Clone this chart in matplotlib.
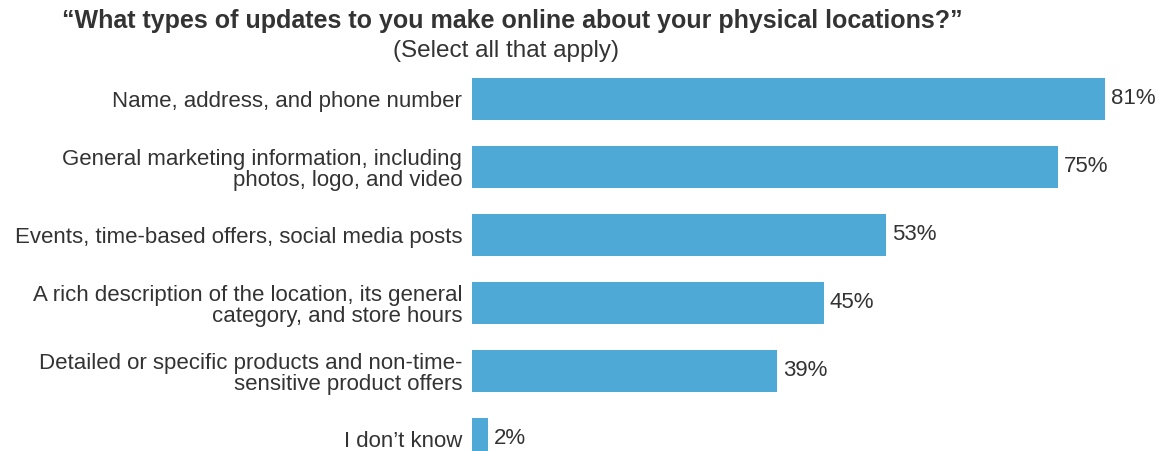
import matplotlib
matplotlib.use("Agg")
import matplotlib.pyplot as plt

categories = [
    "Name, address, and phone number",
    "General marketing information, including\nphotos, logo, and video",
    "Events, time-based offers, social media posts",
    "A rich description of the location, its general\ncategory, and store hours",
    "Detailed or specific products and non-time-\nsensitive product offers",
    "I don\u2019t know",
]
values = [81, 75, 53, 45, 39, 2]

plt.rcParams['font.family'] = ['Liberation Sans', 'DejaVu Sans']

W, H = 1164, 451
fig = plt.figure(figsize=(W / 100, H / 100), dpi=100)
left = 472 / W
ax = fig.add_axes([left, 0.0, 1 - left, 1 - 65 / H])

y = list(range(len(values)))
ax.barh(y, values, height=0.62, color="#4EA9D6")
ax.set_xlim(0, (W - 472) / ((1105 - 472) / 81))
ax.set_ylim((H - 99) / 68, -0.5)
for yi, v in zip(y, values):
    ax.text(v + 0.8, yi, f"{v}%", va="center", ha="left", fontsize=16, color="#333333")
ax.set_yticks(y)
ax.set_yticklabels(categories, fontsize=16, color="#333333", linespacing=1.05)
ax.tick_params(axis="y", length=0, pad=7)
ax.set_xticks([])
for s in ax.spines.values():
    s.set_visible(False)

fig.text(62 / W, 1 - 21 / H, "\u201cWhat types of updates to you make online about your physical locations?\u201d",
         fontsize=18, fontweight="bold", color="#333333", ha="left", va="center")
fig.text(506 / W, 1 - 51 / H, "(Select all that apply)", fontsize=17.5, color="#333333",
         ha="center", va="center")

fig.savefig("out.png", dpi=100)
